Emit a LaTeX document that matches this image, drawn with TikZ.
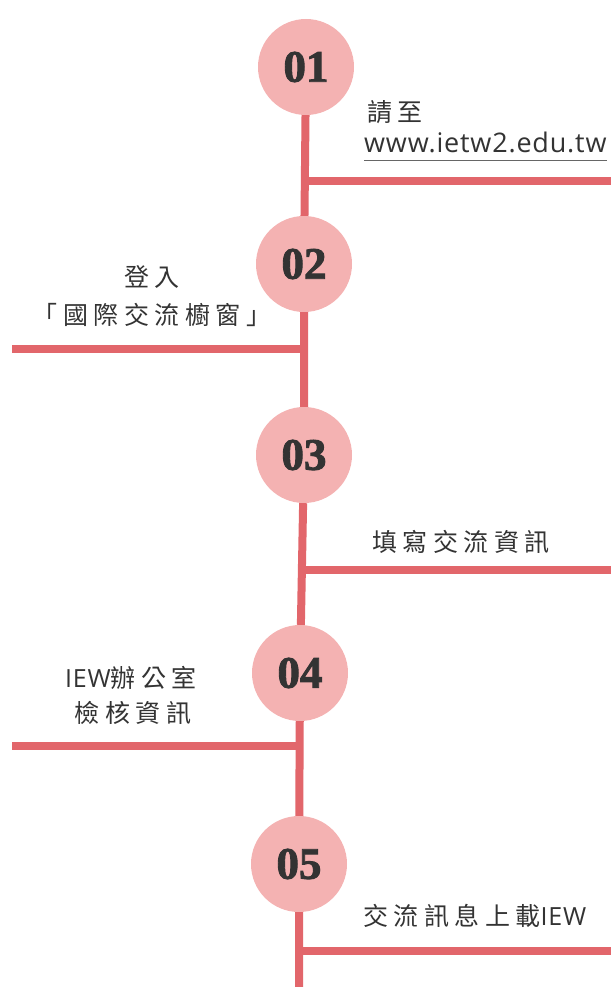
\documentclass[tikz,border=0pt]{standalone}
\usepackage{fontspec}
\newfontfamily\cjkfont[LetterSpace=22]{Noto Sans CJK TC}
\newfontfamily\latinfont[LetterSpace=3]{Open Sans}
\newfontfamily\numfont[BoldFeatures={FakeBold=2}]{Liberation Serif}
\definecolor{routered}{HTML}{E2666B}
\definecolor{stepfill}{HTML}{F4B2B2}
\definecolor{inkgray}{HTML}{333333}
\tikzset{
  stepcircle/.style={circle, fill=stepfill, minimum size=96pt, inner sep=0pt,
    font=\numfont\bfseries\fontsize{45}{45}\selectfont, text=inkgray},
  route/.style={draw=routered, line width=8pt},
  steptext/.style={inner sep=0pt, text=inkgray, font=\cjkfont\fontsize{25}{30}\selectfont},
}
\begin{document}
\begin{tikzpicture}[x=1pt,y=-1pt]
\useasboundingbox (0,0) rectangle (611,987);

% step circles
\node[stepcircle] (c1) at (306,67) {01};
\node[stepcircle] (c2) at (304,264) {02};
\node[stepcircle] (c3) at (304,455) {03};
\node[stepcircle] (c4) at (300,673) {04};
\node[stepcircle] (c5) at (299,864) {05};
\coordinate (bot) at (299,987);

% branch ends
\coordinate (e1) at (611,181);
\coordinate (e2) at (12,349);
\coordinate (e3) at (611,570);
\coordinate (e4) at (12,746);
\coordinate (e5) at (611,951);

\draw[route] (c1) -- (c2) -- (c3) -- (c4) -- (c5) -- (bot);
\foreach \i in {1,...,5}
  \draw[route] (c\i.south |- e\i) -- (e\i);

% texts
\node[steptext, anchor=base west] (t1a) at (367,122) {請至};
\node[steptext, anchor=base west, font=\latinfont\fontsize{27}{30}\selectfont] (t1b) at (364,153) {www.ietw2.edu.tw};
\draw[black!60, line width=0.8pt] ([yshift=-7pt]t1b.base west) -- ([yshift=-7pt]t1b.base east);

\node[steptext, anchor=base] (t2a) at (152,286) {登入};
\node[steptext, anchor=base] (t2b) at (152,324) {「國際交流櫥窗」};

\node[steptext, anchor=base west] (t3) at (372,551) {填寫交流資訊};

\node[steptext, anchor=base] (t4a) at (131,687) {{\latinfont IEW}辦公室};
\node[steptext, anchor=base] (t4b) at (133,722) {檢核資訊};

\node[steptext, anchor=base west] (t5) at (363,925) {交流訊息上載{\latinfont IEW}};
\end{tikzpicture}
\end{document}
